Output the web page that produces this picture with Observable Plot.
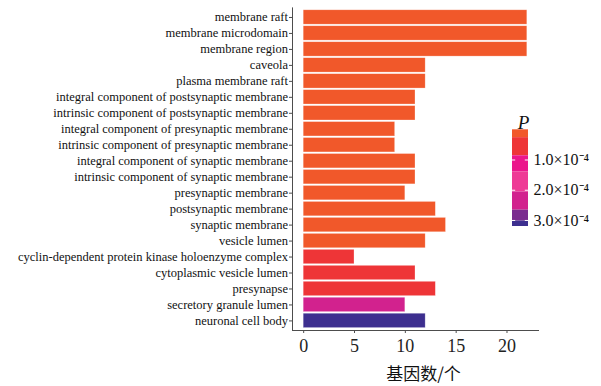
<!DOCTYPE html>
<html>
<head>
<meta charset="utf-8">
<script src="https://cdn.jsdelivr.net/npm/d3@7"></script>
<script src="https://cdn.jsdelivr.net/npm/@observablehq/plot@0.6"></script>
<style>
  body { margin: 0; background: #fff; }
  #wrap { position: relative; width: 601px; height: 386px; background: #fff; }
  #legend { position: absolute; left: 490px; top: 100px; }
</style>
</head>
<body>
<div id="wrap"><div id="main"></div><div id="legend"></div></div>
<script>
// GO cellular-component terms, top to bottom
const terms = [
  "membrane raft",
  "membrane microdomain",
  "membrane region",
  "caveola",
  "plasma membrane raft",
  "integral component of postsynaptic membrane",
  "intrinsic component of postsynaptic membrane",
  "integral component of presynaptic membrane",
  "intrinsic component of presynaptic membrane",
  "integral component of synaptic membrane",
  "intrinsic component of synaptic membrane",
  "presynaptic membrane",
  "postsynaptic membrane",
  "synaptic membrane",
  "vesicle lumen",
  "cyclin-dependent protein kinase holoenzyme complex",
  "cytoplasmic vesicle lumen",
  "presynapse",
  "secretory granule lumen",
  "neuronal cell body"
];

// number of genes per term
const geneCounts = [22, 22, 22, 12, 12, 11, 11, 9, 9, 11, 11, 10, 13, 14, 12, 5, 11, 13, 10, 12];

// enrichment P value per term
const pValues = [
  2.1e-8, 2.1e-8, 3.5e-8, 1.1e-6, 1.6e-6, 4.3e-6, 7.4e-6, 8.6e-6, 1.5e-5, 1.2e-5,
  1.7e-5, 1.8e-5, 1.9e-5, 2.0e-5, 2.3e-5, 3.2e-5, 4.6e-5, 5.8e-5, 2.4e-4, 3.2e-4
];

// stepped colour bar for P
const pBreaks = [0.26e-4, 0.86e-4, 1.39e-4, 2.06e-4, 2.66e-4, 3.02e-4];
const pColors = ["#f1582a", "#ee3537", "#eb168b", "#ee3a95", "#d2228e", "#7b2b8f", "#3d2f8f"];
const pTicks = [1e-4, 2e-4, 3e-4];

const xTicks = [0, 5, 10, 15, 20];
const xTitle = "基因数/个";

const rows = terms.map((term, i) => ({term, count: geneCounts[i], p: pValues[i]}));
const colorScale = {type: "threshold", domain: pBreaks, range: pColors};
const serif = "'Liberation Serif', 'Times New Roman', serif";
const axisGrey = "#4d4d4d";

const main = Plot.plot({
  width: 601,
  height: 386,
  marginLeft: 292,
  marginRight: 63,
  marginTop: 7.4,
  marginBottom: 56,
  style: {fontFamily: serif, background: "transparent", color: "#111"},
  x: {domain: [-1.1, 23.1]},
  y: {domain: terms, paddingInner: 0.1, paddingOuter: 0.15, round: false},
  color: colorScale,
  marks: [
    Plot.barX(rows, {x: "count", y: "term", fill: "p", stroke: "#ffffff", strokeOpacity: 0.45, strokeWidth: 0.6}),
    Plot.axisY({tickSize: 3, tickPadding: 1.5, fontSize: 12.5, stroke: axisGrey, fill: "#111", label: null}),
    Plot.axisX({ticks: xTicks, tickSize: 3, tickPadding: 6, fontSize: 18, stroke: axisGrey, fill: "#222", label: null}),
    Plot.frame({anchor: "left", stroke: axisGrey}),
    Plot.frame({anchor: "bottom", stroke: axisGrey}),
    Plot.text([xTitle], {frameAnchor: "bottom", dx: 8, dy: 49, fontSize: 17,
      fontFamily: "'Noto Sans CJK SC', sans-serif", fill: "#111"})
  ]
});
document.getElementById("main").append(main);

// vertical colour bar legend built from the same threshold scale
const bandEdges = [d3.min(pValues), ...pBreaks, d3.max(pValues)];
const bands = d3.pairs(bandEdges).map(([lo, hi]) => ({lo, hi, mid: (lo + hi) / 2}));
const fmt = v => (v / 1e-4).toFixed(1) + "×10⁻⁴";

const legend = Plot.plot({
  width: 111,
  height: 140,
  marginLeft: 22,
  marginRight: 73,
  marginTop: 29.3,
  marginBottom: 14,
  style: {fontFamily: serif, background: "transparent", color: "#111"},
  x: {domain: [0, 1], axis: null},
  y: {domain: [d3.min(pValues), d3.max(pValues)], reverse: true, axis: null},
  color: colorScale,
  marks: [
    Plot.rect(bands, {x1: 0, x2: 1, y1: "lo", y2: "hi", fill: "mid"}),
    Plot.ruleY(pTicks, {x1: 0, x2: 0.2, stroke: "white", strokeWidth: 1}),
    Plot.ruleY(pTicks, {x1: 0.8, x2: 1, stroke: "white", strokeWidth: 1}),
    Plot.text(pTicks, {x: 1, y: d => d, text: fmt, dx: 5, textAnchor: "start", fontSize: 16, fill: "#111"}),
    Plot.text(["P"], {frameAnchor: "top", dx: 3, dy: -14, fontSize: 19, fontStyle: "italic", fill: "#111"})
  ]
});
document.getElementById("legend").append(legend);
</script>
</body>
</html>
